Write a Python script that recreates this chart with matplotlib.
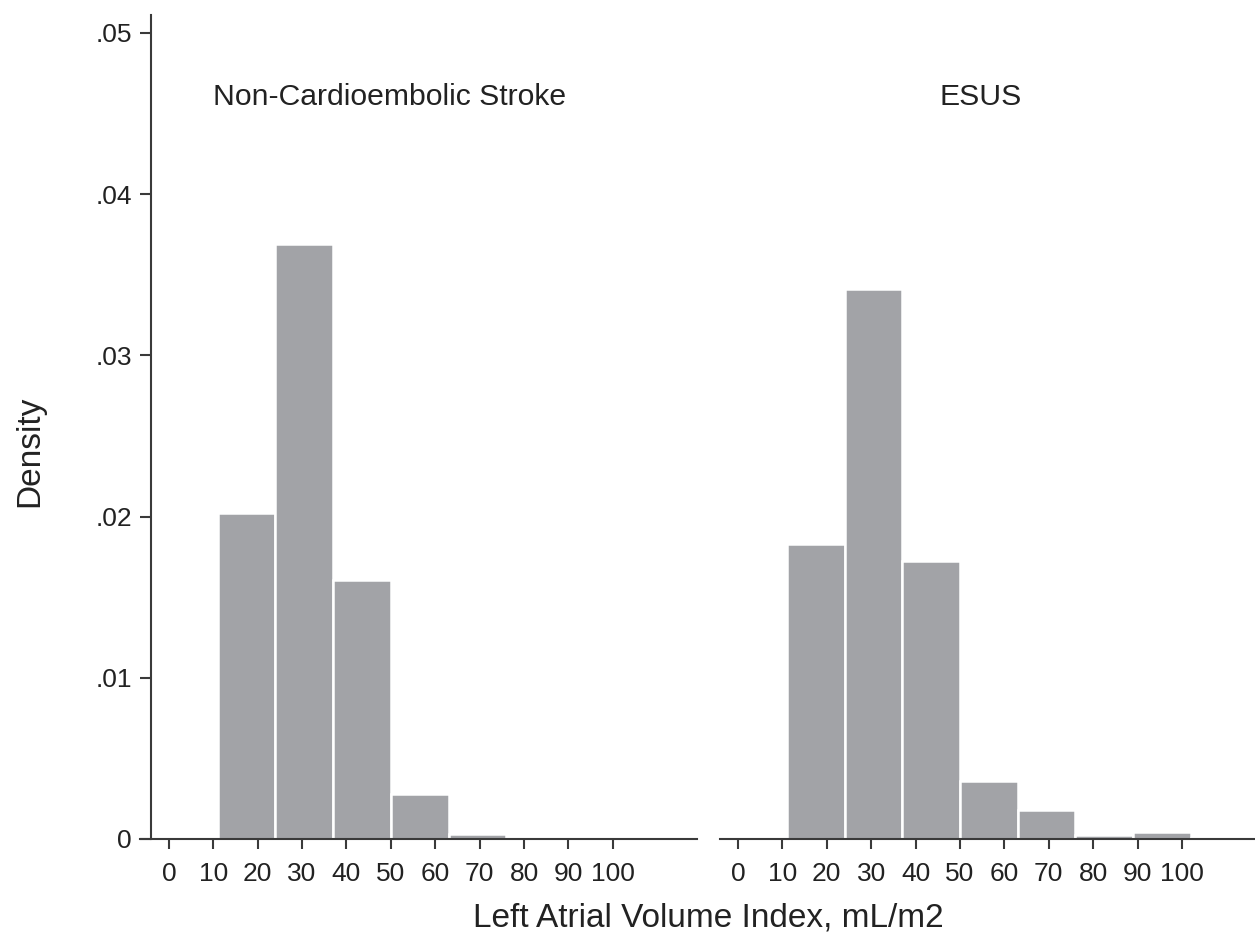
import matplotlib.pyplot as plt
import numpy as np

# === Data ===
bin_width = 13
bin_starts = [11, 24, 37, 50, 63, 76, 89, 102]
non_cardio = [0.0202, 0.0369, 0.01605, 0.00277, 0.0003, 0, 0, 0]
esus = [0.01828, 0.03412, 0.01726, 0.0036, 0.0018, 0.00022, 0.00042, 0.00005]
x_ticks = [0, 10, 20, 30, 40, 50, 60, 70, 80, 90, 100]
y_ticks = [0, 0.01, 0.02, 0.03, 0.04, 0.05]
y_labels = ["0", ".01", ".02", ".03", ".04", ".05"]
panel_titles = ["Non-Cardioembolic Stroke", "ESUS"]

plt.rcParams['font.family'] = ['Liberation Sans', 'DejaVu Sans']
text_col = "#222222"
axis_col = "#3a3a3a"
bar_col = "#a2a3a7"

W, H = 1255, 943
fig = plt.figure(figsize=(W / 100, H / 100), dpi=100)

px_per_unit = 4.44
bottom_px, top_px = 839, 15
ymax = 0.05 * (bottom_px - top_px) / (bottom_px - 33)
x_right = 118.9


def make_axes(left_px, x0):
    width_px = (x_right - x0) * px_per_unit
    ax = fig.add_axes([left_px / W, 1 - bottom_px / H, width_px / W, (bottom_px - top_px) / H])
    ax.set_xlim(x0, x_right)
    ax.set_ylim(0, ymax)
    for s in ["top", "right"]:
        ax.spines[s].set_visible(False)
    for s in ["left", "bottom"]:
        ax.spines[s].set_color(axis_col)
        ax.spines[s].set_linewidth(1.5)
    ax.set_xticks(x_ticks)
    ax.tick_params(axis="x", length=7.5, width=1.5, color=axis_col, labelsize=19,
                   labelcolor=text_col, pad=9)
    return ax


axes = [make_axes(140, -6.5), make_axes(720, -4.05)]
series = [non_cardio, esus]

for ax, vals in zip(axes, series):
    starts = [b for b, v in zip(bin_starts, vals) if v > 0]
    heights = [v for v in vals if v > 0]
    ax.bar(starts, heights, width=bin_width, align="edge", color=bar_col,
           edgecolor="white", linewidth=1.8, zorder=1)

# left panel carries the y axis
ax0 = axes[0]
ax0.spines["left"].set_position(("data", -4.1))
ax0.set_yticks(y_ticks)
ax0.set_yticklabels(y_labels)
ax0.tick_params(axis="y", length=8, width=1.5, color=axis_col, labelsize=19,
                labelcolor=text_col, pad=5.5)

ax1 = axes[1]
ax1.spines["left"].set_visible(False)
ax1.set_yticks([])

# panel titles
fig.text(390 / W, 1 - 97 / H, panel_titles[0], ha="center", va="center",
         fontsize=21.7, color=text_col)
fig.text(981 / W, 1 - 97 / H, panel_titles[1], ha="center", va="center",
         fontsize=21.7, color=text_col)

# axis titles
fig.text(708 / W, 1 - 918 / H, "Left Atrial Volume Index, mL/m2", ha="center",
         va="center", fontsize=24, color=text_col)
fig.text(30 / W, 1 - 451 / H, "Density", ha="center", va="center",
         rotation=90, fontsize=24, color=text_col)

fig.savefig("out.png", dpi=100)
